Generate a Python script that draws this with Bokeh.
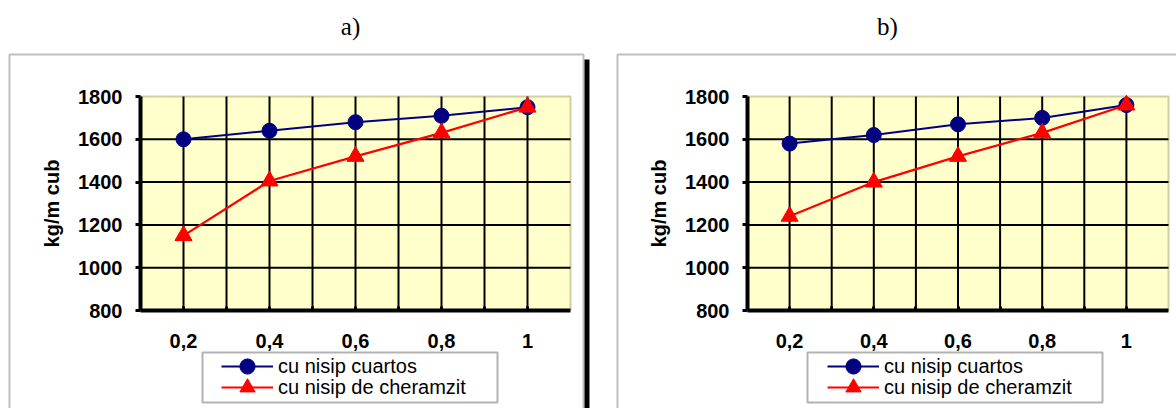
from bokeh.plotting import figure
from bokeh.layouts import row
from bokeh.models import (BoxAnnotation, Label, Legend, LegendItem, FixedTicker,
                          Range1d)
from bokeh.embed import file_html
from bokeh.resources import INLINE

# ---- data ----
categories = ["0,2", "0,4", "0,6", "0,8", "1"]
a_cuartos = [1600, 1640, 1680, 1710, 1750]
a_cheramzit = [1150, 1405, 1520, 1630, 1750]
b_cuartos = [1580, 1620, 1670, 1700, 1760]
b_cheramzit = [1240, 1400, 1520, 1630, 1760]
y_ticks = [800, 1000, 1200, 1400, 1600, 1800]
y_grid = [1000, 1200, 1400, 1600]
series_names = ["cu nisip cuartos", "cu nisip de cheramzit"]
titles = ["a)", "b)"]
y_title = "kg/m cub"

FONT = "Liberation Sans"
H = 408


def make_chart(W, pa_left, pa_right, pa_top, pa_bottom, cuartos, cheramzit,
               title, title_cx, box_left, box_right, leg_box, glyph_left):
    n = len(categories)
    xs = list(range(n))
    x0, x1 = -0.5, n - 0.5
    y0, y1 = y_ticks[0], y_ticks[-1]
    ux = (x1 - x0) / (pa_right - pa_left)      # data units per px
    uy = (y1 - y0) / (pa_bottom - pa_top)
    p = figure(width=W, height=H,
               x_range=Range1d(x0 - pa_left * ux, x1 + (W - pa_right) * ux),
               y_range=Range1d(y0 - (H - pa_bottom) * uy, y1 + pa_top * uy),
               output_backend="svg", toolbar_location=None, min_border=0)
    p.title.visible = False
    p.background_fill_color = "white"
    p.border_fill_color = "white"
    p.outline_line_color = None
    p.xgrid.visible = False
    p.ygrid.visible = False

    # outer chart frame + shadow (screen px, y up from bottom)
    p.add_layout(BoxAnnotation(left=box_left, right=box_right, top=H - 54, bottom=-30,
                               left_units="screen", right_units="screen",
                               top_units="screen", bottom_units="screen",
                               fill_alpha=0, line_color="#2a2a2a", line_width=2,
                               level="underlay"))
    p.add_layout(BoxAnnotation(left=box_right + 1, right=box_right + 6, top=H - 59,
                               bottom=-30,
                               left_units="screen", right_units="screen",
                               top_units="screen", bottom_units="screen",
                               fill_color="black", fill_alpha=1, line_alpha=0,
                               level="underlay"))

    # plot area background + border
    p.quad(left=[x0], right=[x1], bottom=[y0], top=[y1],
           fill_color="#FFFFCC", line_color="#D2CEA4", line_width=2, level="image")
    # grid lines
    gx = [i / 2 for i in range(0, 2 * (n - 1) + 1)]
    p.multi_line(xs=[[g, g] for g in gx], ys=[[y0, y1] for g in gx],
                 line_color="black", line_width=2, level="glyph")
    p.multi_line(xs=[[x0, x1] for v in y_grid], ys=[[v, v] for v in y_grid],
                 line_color="black", line_width=2, level="glyph")

    # axes
    xa = p.xaxis[0]
    xa.fixed_location = y0
    xa.bounds = (x0, x1)
    xa.ticker = FixedTicker(ticks=xs, minor_ticks=[x + 0.5 for x in xs[:-1]])
    xa.major_label_overrides = {i: c for i, c in enumerate(categories)}
    xa.major_label_text_font = FONT
    xa.major_label_text_font_style = "bold"
    xa.major_label_text_font_size = "20px"
    xa.major_label_text_color = "black"
    xa.axis_line_width = 4
    xa.axis_line_color = "black"
    xa.major_tick_in = 4
    xa.major_tick_out = 0
    xa.minor_tick_in = 4
    xa.minor_tick_out = 0
    xa.major_tick_line_width = 3
    xa.minor_tick_line_width = 3
    xa.major_label_standoff = 23

    ya = p.yaxis[0]
    ya.fixed_location = x0
    ya.bounds = (y0, y1)
    ya.ticker = FixedTicker(ticks=y_ticks)
    ya.major_label_text_font = FONT
    ya.major_label_text_font_style = "bold"
    ya.major_label_text_font_size = "20px"
    ya.major_label_text_color = "black"
    ya.axis_line_width = 4
    ya.axis_line_color = "black"
    ya.major_tick_in = 0
    ya.major_tick_out = 5
    ya.major_tick_line_width = 3
    ya.minor_tick_line_color = None
    ya.major_label_standoff = 13
    ya.axis_label = y_title
    ya.axis_label_text_font = FONT
    ya.axis_label_text_font_style = "bold"
    ya.axis_label_text_font_size = "20px"
    ya.axis_label_text_color = "black"
    ya.axis_label_standoff = 12

    # series
    l1 = p.line(xs, cuartos, line_color="#000080", line_width=2)
    s1 = p.scatter(xs, cuartos, marker="circle", size=15,
                   fill_color="#000080", line_color="#000080")
    l2 = p.line(xs, cheramzit, line_color="#FF0000", line_width=2.2)
    s2 = p.scatter(xs, cheramzit, marker="triangle", size=17,
                   fill_color="#FF0000", line_color="#FF0000")

    # legend box + legends (one per row for the tight row pitch)
    p.add_layout(BoxAnnotation(left=leg_box[0], right=leg_box[1], top=H - 352,
                               bottom=H - 402,
                               left_units="screen", right_units="screen",
                               top_units="screen", bottom_units="screen",
                               fill_color="white", fill_alpha=1,
                               line_color="black", line_width=2))
    rows = [(series_names[0], [l1, s1], 366), (series_names[1], [l2, s2], 387)]
    for label, rends, cy in rows:
        legend = Legend(items=[LegendItem(label=label, renderers=rends)],
                        location=(glyph_left, H - cy - 19))
        legend.background_fill_alpha = 0
        legend.border_line_alpha = 0
        legend.padding = 0
        legend.margin = 0
        legend.spacing = 0
        legend.glyph_width = 52
        legend.glyph_height = 38
        legend.label_height = 19
        legend.label_standoff = 5
        legend.label_text_font = FONT
        legend.label_text_font_size = "20px"
        legend.label_text_color = "black"
        p.add_layout(legend)

    # title
    p.add_layout(Label(x=title_cx, y=H - 26, x_units="screen", y_units="screen",
                       text=title, text_font="Liberation Serif",
                       text_font_size="25px", text_align="center",
                       text_baseline="middle", text_color="black"))
    return p


pa = make_chart(600, 140, 570, 96, 310, a_cuartos, a_cheramzit, titles[0], 350,
                9, 583, (202, 497), 221)
pb = make_chart(576, 147, 568, 96, 310, b_cuartos, b_cheramzit, titles[1], 287,
                17, 600, (207, 502), 227)

layout = row(pa, pb, spacing=0)
open("out.html", "w").write(file_html(layout, INLINE))
